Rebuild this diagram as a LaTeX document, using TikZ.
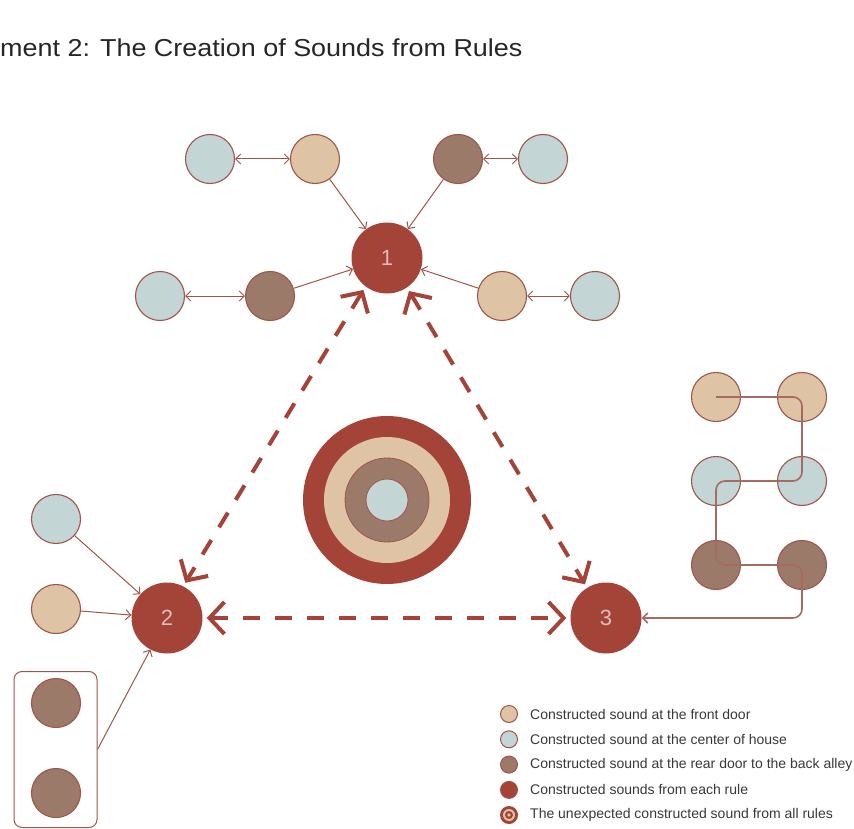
\documentclass[tikz,border=0pt]{standalone}
\usepackage{fontspec}
\setmainfont{Liberation Sans}
\newfontfamily\titlefont[FakeStretch=1.1]{Liberation Sans}
\usetikzlibrary{arrows.meta,positioning}
\usepackage{xcolor}
\definecolor{midblue}{HTML}{C4D5D5}
\definecolor{fronttan}{HTML}{DEC4A4}
\definecolor{rearbrown}{HTML}{9B7A69}
\definecolor{rulered}{HTML}{A44337}
\definecolor{edgered}{HTML}{A0554B}
\definecolor{pathbrown}{HTML}{A36B61}
\tikzstyle{sound} = [
    circle,
    draw=edgered,
    line width=1.1pt,
    minimum size=49pt,
    inner sep=0pt
]
\tikzstyle{front} = [sound, fill=fronttan]
\tikzstyle{mid} = [sound, fill=midblue]
\tikzstyle{rear} = [sound, fill=rearbrown]
\tikzstyle{rulenode} = [
    circle,
    fill=rulered,
    minimum size=71pt,
    inner sep=0pt,
    text=rulered!35!white,
    font=\fontsize{22}{22}\selectfont
]
\tikzstyle{link} = [
    draw=edgered,
    line width=1pt,
    -{Straight Barb[length=5pt,width=10pt]}
]
\tikzstyle{dlink} = [
    link,
    {Straight Barb[length=5pt,width=10pt]}-{Straight Barb[length=5pt,width=10pt]}
]
\tikzstyle{ruleflow} = [
    draw=rulered,
    line width=4pt,
    dash pattern=on 17pt off 15pt,
    {Straight Barb[length=15pt,width=32pt]}-{Straight Barb[length=15pt,width=32pt]},
    shorten >=4pt,
    shorten <=4pt
]

\begin{document}
\begin{tikzpicture}[x=1pt,y=-1pt]
\useasboundingbox (0,0) rectangle (854,829);

% Title
\node[anchor=west, inner sep=0pt, text=black!85, font=\titlefont\fontsize{24.5}{26}\selectfont] (title) at (0,48) {ment 2: The Creation of Sounds from Rules};

% Rule nodes
\node[rulenode] (r1) at (387,258) {1};
\node[rulenode] (r2) at (167,618) {2};
\node[rulenode] (r3) at (606,618) {3};

% Sounds around rule 1
\node[mid] (t1) at (210,159) {};
\node[front] (t2) at (315,159) {};
\node[rear] (t3) at (458,159) {};
\node[mid] (t4) at (543,159) {};
\node[mid] (b1) at (160,296) {};
\node[rear] (b2) at (270,296) {};
\node[front] (b3) at (502,296) {};
\node[mid] (b4) at (595,296) {};

\draw[dlink] (t1) -- (t2);
\draw[dlink] (t3) -- (t4);
\draw[dlink] (b1) -- (b2);
\draw[dlink] (b3) -- (b4);
\draw[link] (t2) -- (r1);
\draw[link] (t3) -- (r1);
\draw[link] (b2) -- (r1);
\draw[link] (b3) -- (r1);

% Sounds for rule 2
\node[mid] (l1) at (56,519) {};
\node[front] (l2) at (56,609) {};
\node[draw=edgered, line width=1pt, rounded corners=8pt, minimum width=83pt, minimum height=156pt] (rearbox) at (55.5,749.5) {};
\node[rear] (k1) at (56,703) {};
\node[rear] (k2) at (56,793) {};

\draw[link] (l1) -- (r2);
\draw[link] (l2) -- (r2);
\draw[link] (rearbox.east) -- (r2);

% Sounds for rule 3
\node[front] (s1) at (716,397) {};
\node[front] (s2) at (802,397) {};
\node[mid] (s3) at (716,481) {};
\node[mid] (s4) at (802,481) {};
\node[rear] (s5) at (716,565) {};
\node[rear] (s6) at (802,565) {};

\draw[pathbrown, line width=1.6pt, rounded corners=9pt, -{Straight Barb[length=5pt,width=10pt]}]
  (s1.center) -- (s2.center) -- (s4.center) -- (s3.center) -- (s5.center) -- (s6.center) -- (s6.center |- r3.east) -- (r3.east);

% Links between rules
\draw[ruleflow] (r1.233) -- (r2.63);
\draw[ruleflow] (r1.304) -- (r3.122);
\draw[ruleflow] (r2.east) -- (r3.west);

% Unexpected sound from all rules
\coordinate (tgt) at (387,500);
\fill[rulered] (tgt) circle (84pt);
\fill[fronttan] (tgt) circle (63pt);
\filldraw[fill=rearbrown, draw=edgered, line width=0.8pt] (tgt) circle (42pt);
\filldraw[fill=midblue, draw=edgered, line width=0.8pt] (tgt) circle (21pt);

% Legend
\foreach \keycol/\keytext [count=\i] in {fronttan/Constructed sound at the front door,
    midblue/Constructed sound at the center of house,
    rearbrown/Constructed sound at the rear door to the back alley,
    rulered/Constructed sounds from each rule} {
  \node[circle, fill=\keycol, draw=edgered, line width=1pt, minimum size=17pt, inner sep=0pt] (key\i) at (509,{714+25.3*(\i-1)}) {};
  \node[anchor=west, inner sep=0pt, text=black!78, font=\fontsize{14}{16}\selectfont] (keytext\i) at (530,{714+25.3*(\i-1)}) {\keytext};
}
\node[circle, fill=rulered, minimum size=18pt, inner sep=0pt] (key5) at (509,815) {};
\fill[fronttan] (key5) circle (6pt);
\fill[rulered] (key5) circle (4pt);
\fill[fronttan] (key5) circle (1.8pt);
\node[anchor=west, inner sep=0pt, text=black!78, font=\fontsize{14}{16}\selectfont] (keytext5) at (530,815) {The unexpected constructed sound from all rules};
\end{tikzpicture}
\end{document}
